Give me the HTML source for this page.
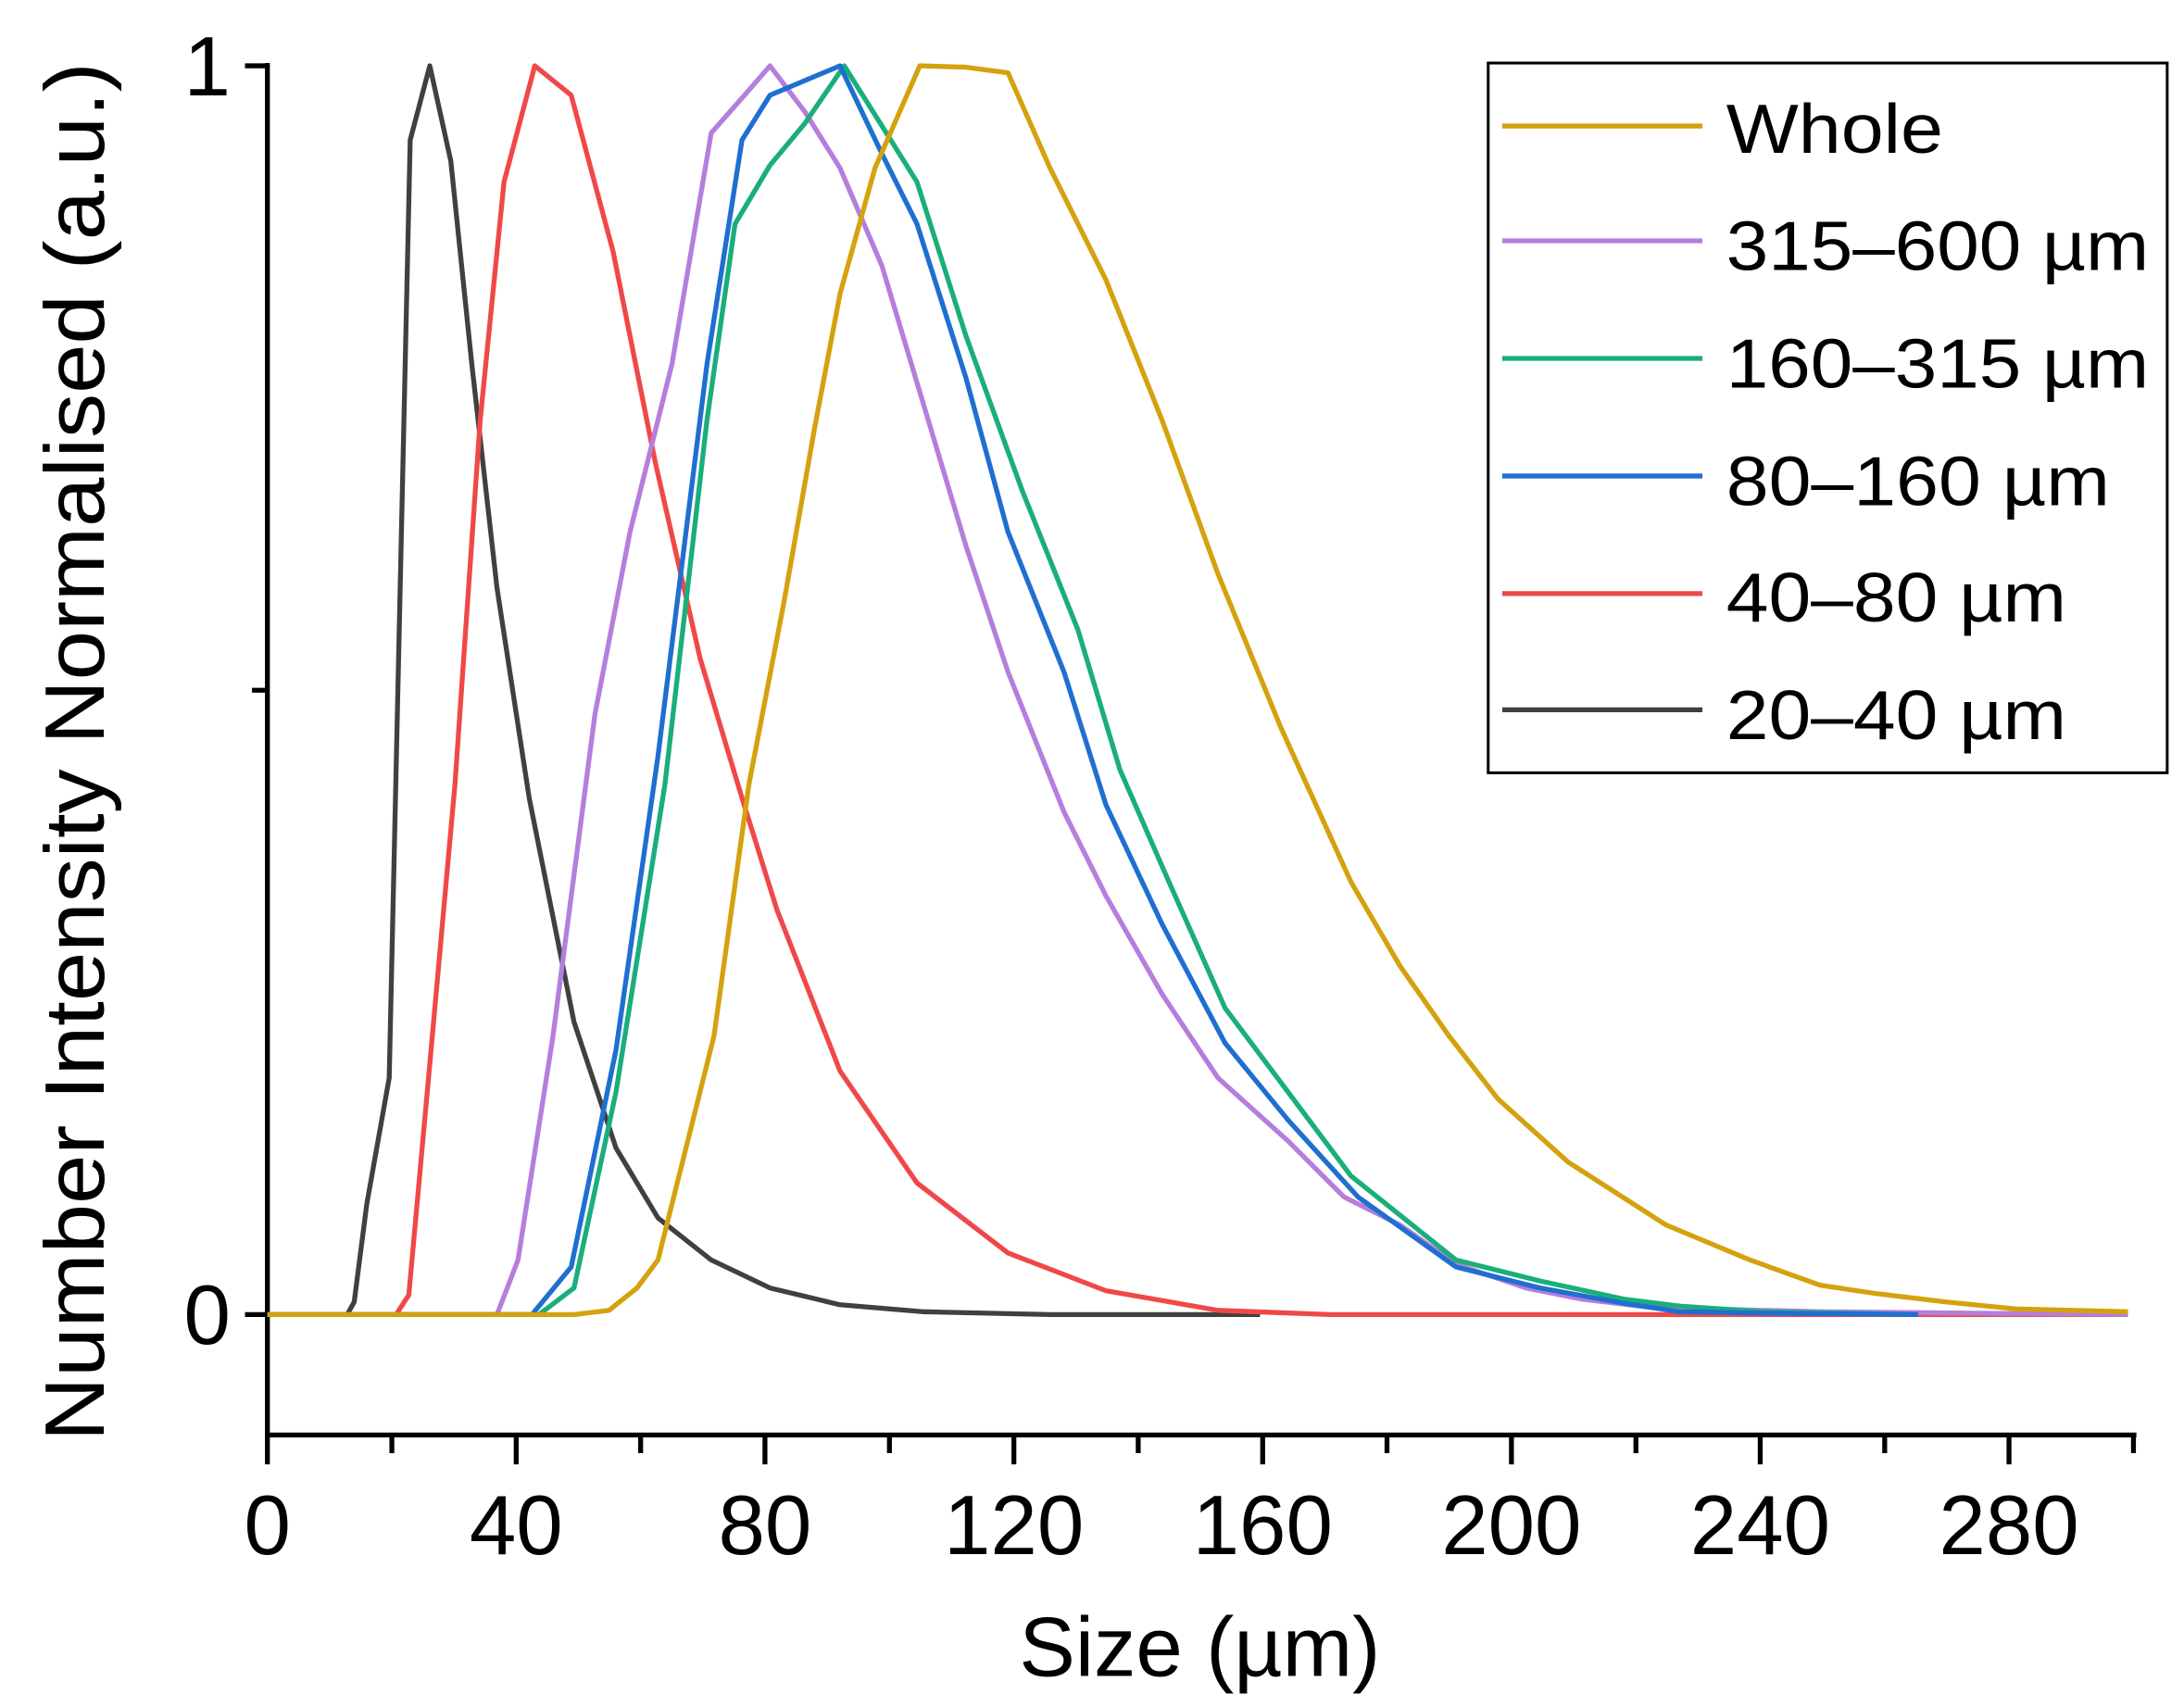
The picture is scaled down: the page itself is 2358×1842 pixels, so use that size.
<!DOCTYPE html>
<html><head><meta charset="utf-8"><style>html,body{margin:0;padding:0;background:#fff}svg{display:block}</style></head>
<body>
<svg width="2358" height="1842" viewBox="0 0 1560 1218.6" xmlns="http://www.w3.org/2000/svg" font-family="'Liberation Sans', sans-serif">
<rect width="1560" height="1218.6" fill="#fff"/>
<g stroke="#000" stroke-width="3.5" fill="none">
<line x1="191" y1="45" x2="191" y2="1026"/>
<line x1="189.5" y1="1025" x2="1526" y2="1025"/>
<line x1="175" y1="47" x2="191" y2="47"/>
<line x1="180" y1="493" x2="191" y2="493"/>
<line x1="175" y1="939" x2="191" y2="939"/>
<path d="M191 1025V1046M279.9 1025V1038M368.7 1025V1046M457.6 1025V1038M546.4 1025V1046M635.3 1025V1038M724.2 1025V1046M813 1025V1038M901.9 1025V1046M990.7 1025V1038M1079.6 1025V1046M1168.5 1025V1038M1257.3 1025V1046M1346.2 1025V1038M1435 1025V1046M1523.9 1025V1038"/>
</g>
<g font-size="60" text-anchor="middle" fill="#000">
<text x="191" y="1110">0</text><text x="368.7" y="1110">40</text><text x="546.4" y="1110">80</text><text x="724.2" y="1110">120</text><text x="901.9" y="1110">160</text><text x="1079.6" y="1110">200</text><text x="1257.3" y="1110">240</text><text x="1435" y="1110">280</text>
<text x="148" y="68">1</text><text x="148" y="960">0</text>
<text x="857" y="1197" textLength="258" lengthAdjust="spacingAndGlyphs">Size (µm)</text>
<text transform="translate(74,537) rotate(-90)" font-size="60" textLength="985" lengthAdjust="spacingAndGlyphs">Number Intensity Normalised (a.u.)</text>
</g>
<g fill="none" stroke-width="3.5" stroke-linejoin="round">
<polyline stroke="#404040" points="191,939 248,939 253,930 262,860 278,770 293,100 307,47 322,115 337,260 355,420 378,570 410,730 440,820 470,870 508,900 550,920 600,932 660,937 750,939 900,939"/>
<polyline stroke="#F04848" points="191,939 283,939 292,925 307,760 325,560 343,300 360,130 382,47 408,68 438,180 468,330 500,470 530,570 555,650 600,765 655,845 720,895 790,922 870,936 950,939 1520,939"/>
<polyline stroke="#B57EDC" points="191,939 355,939 370,900 395,740 425,510 450,380 480,260 508,95 530,70 550,47 575,80 600,120 630,190 660,290 690,390 720,480 760,580 790,640 830,710 870,770 920,815 960,855 1000,875 1040,903 1090,920 1130,928 1180,934 1300,937 1520,939"/>
<polyline stroke="#1AAE7A" points="191,939 385,939 410,920 440,780 475,560 505,300 525,160 550,118 575,88 603,47 630,90 655,130 690,240 730,350 770,450 800,550 835,630 875,720 920,780 965,840 1040,900 1100,915 1160,928 1200,933 1260,937 1370,939"/>
<polyline stroke="#1F6FD0" points="191,939 380,939 408,905 440,750 470,540 505,260 530,100 550,68 600,47 630,110 655,160 690,270 720,380 760,480 790,575 830,660 875,745 920,800 970,855 1040,905 1100,920 1160,931 1200,937 1260,938 1370,939"/>
<polyline stroke="#D4A20E" points="191,939 410,939 435,936 455,920 470,900 490,820 510,740 535,560 560,430 582,305 600,210 625,120 657,47 690,48 720,52 750,120 790,200 830,300 870,410 915,520 965,630 1000,690 1035,740 1070,785 1120,830 1190,875 1250,900 1300,918 1340,924 1390,930 1440,935 1520,937"/>
</g>
<rect x="1063" y="45" width="485" height="507" fill="#fff" stroke="#000" stroke-width="2"/>
<g stroke-width="3.5">
<line x1="1073" y1="90" x2="1216" y2="90" stroke="#D4A20E"/>
<line x1="1073" y1="172" x2="1216" y2="172" stroke="#B57EDC"/>
<line x1="1073" y1="256" x2="1216" y2="256" stroke="#1AAE7A"/>
<line x1="1073" y1="340" x2="1216" y2="340" stroke="#1F6FD0"/>
<line x1="1073" y1="424" x2="1216" y2="424" stroke="#F04848"/>
<line x1="1073" y1="507" x2="1216" y2="507" stroke="#404040"/>
</g>
<g font-size="50" fill="#000">
<text x="1233" y="109" textLength="155" lengthAdjust="spacingAndGlyphs">Whole</text>
<text x="1233" y="193" textLength="302" lengthAdjust="spacingAndGlyphs">315–600 µm</text>
<text x="1233" y="277" textLength="302" lengthAdjust="spacingAndGlyphs">160–315 µm</text>
<text x="1233" y="361" textLength="274" lengthAdjust="spacingAndGlyphs">80–160 µm</text>
<text x="1233" y="444" textLength="243" lengthAdjust="spacingAndGlyphs">40–80 µm</text>
<text x="1233" y="528" textLength="243" lengthAdjust="spacingAndGlyphs">20–40 µm</text>
</g>
</svg>
</body></html>
